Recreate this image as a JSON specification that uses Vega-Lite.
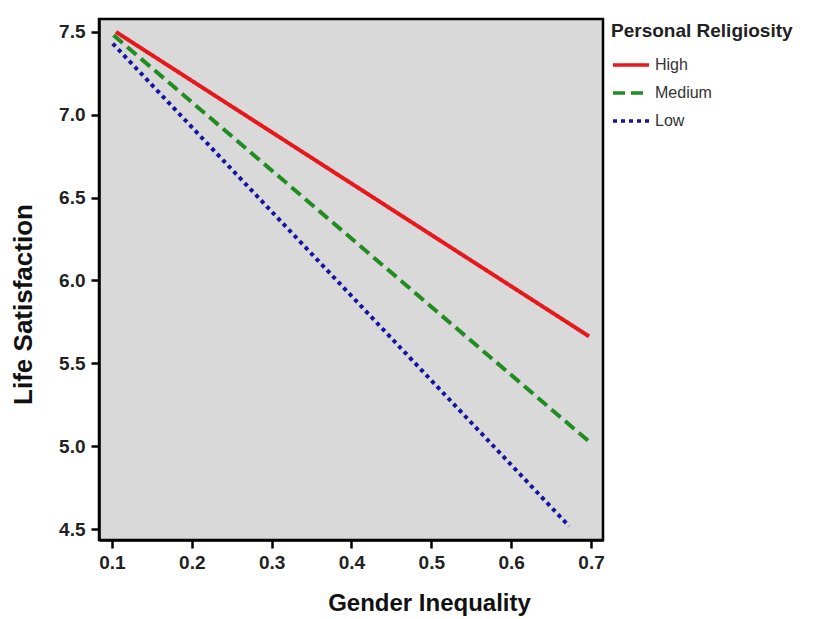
{
  "$schema": "https://vega.github.io/schema/vega-lite/v6.json",
  "width": 504,
  "height": 521,
  "autosize": {"type": "none"},
  "padding": {"left": 99, "top": 19, "right": 211, "bottom": 79},
  "background": "white",
  "config": {
    "font": "Liberation Sans",
    "view": {"fill": "#d9d9d9", "stroke": "black", "strokeWidth": 2.5}
  },
  "data": {
    "values": [
      {"gi": 0.105, "ls": 7.50, "rel": "High"},
      {"gi": 0.6975, "ls": 5.663, "rel": "High"},
      {"gi": 0.102, "ls": 7.48, "rel": "Medium"},
      {"gi": 0.700, "ls": 5.018, "rel": "Medium"},
      {"gi": 0.101, "ls": 7.43, "rel": "Low"},
      {"gi": 0.6725, "ls": 4.518, "rel": "Low"}
    ]
  },
  "mark": {"type": "line", "strokeWidth": 4, "clip": true},
  "encoding": {
    "x": {
      "field": "gi",
      "type": "quantitative",
      "scale": {"domain": [0.0838, 0.715], "nice": false, "zero": false},
      "axis": {
        "values": [0.1, 0.2, 0.3, 0.4, 0.5, 0.6, 0.7],
        "format": ".1f",
        "grid": false,
        "labelFont": "Liberation Sans",
        "labelFontWeight": "bold",
        "labelFontSize": 19,
        "labelColor": "#222222",
        "labelPadding": 5,
        "labelFlush": false,
        "domainColor": "black",
        "domainWidth": 2.5,
        "tickColor": "black",
        "tickWidth": 2.5,
        "tickSize": 8,
        "title": "Gender Inequality",
        "titleFont": "Liberation Sans",
        "titleFontSize": 24,
        "titleFontWeight": "bold",
        "titleColor": "#111111",
        "titleX": 330,
        "titleY": 63,
        "titleBaseline": "middle"
      }
    },
    "y": {
      "field": "ls",
      "type": "quantitative",
      "scale": {"domain": [4.434, 7.578], "nice": false, "zero": false},
      "axis": {
        "values": [4.5, 5.0, 5.5, 6.0, 6.5, 7.0, 7.5],
        "format": ".1f",
        "grid": false,
        "labelFont": "Liberation Sans",
        "labelFontWeight": "bold",
        "labelFontSize": 19,
        "labelColor": "#222222",
        "labelPadding": 6,
        "labelFlush": false,
        "domainColor": "black",
        "domainWidth": 2.5,
        "tickColor": "black",
        "tickWidth": 2.5,
        "tickSize": 8,
        "title": "Life Satisfaction",
        "titleFont": "Liberation Sans",
        "titleFontSize": 26,
        "titleFontWeight": "bold",
        "titleColor": "#111111",
        "titleX": -76,
        "titleY": 285,
        "titleAngle": 270,
        "titleAlign": "center",
        "titleBaseline": "middle"
      }
    },
    "color": {
      "field": "rel",
      "type": "nominal",
      "sort": ["High", "Medium", "Low"],
      "scale": {"domain": ["High", "Medium", "Low"], "range": ["#e8171b", "#228b22", "#1414a0"]},
      "legend": {
        "title": "Personal Religiosity",
        "orient": "none",
        "legendX": 512,
        "legendY": 3,
        "titleFont": "Liberation Sans",
        "titleFontSize": 19,
        "titleFontWeight": "bold",
        "titleColor": "#222222",
        "titleLimit": 300,
        "titlePadding": 4,
        "labelFont": "Liberation Sans",
        "labelFontSize": 16,
        "labelColor": "#333333",
        "labelOffset": 4,
        "symbolType": "stroke",
        "symbolSize": 1296,
        "symbolStrokeWidth": 3.5,
        "rowPadding": -2
      }
    },
    "strokeDash": {
      "field": "rel",
      "type": "nominal",
      "sort": ["High", "Medium", "Low"],
      "scale": {"domain": ["High", "Medium", "Low"], "range": [[1, 0], [12, 6], [4, 4]]},
      "legend": {
        "title": "Personal Religiosity",
        "orient": "none",
        "legendX": 512,
        "legendY": 3,
        "titleFont": "Liberation Sans",
        "titleFontSize": 19,
        "titleFontWeight": "bold",
        "titleColor": "#222222",
        "titleLimit": 300,
        "titlePadding": 4,
        "labelFont": "Liberation Sans",
        "labelFontSize": 16,
        "labelColor": "#333333",
        "labelOffset": 4,
        "symbolType": "stroke",
        "symbolSize": 1296,
        "symbolStrokeWidth": 3.5,
        "rowPadding": -2
      }
    }
  }
}
